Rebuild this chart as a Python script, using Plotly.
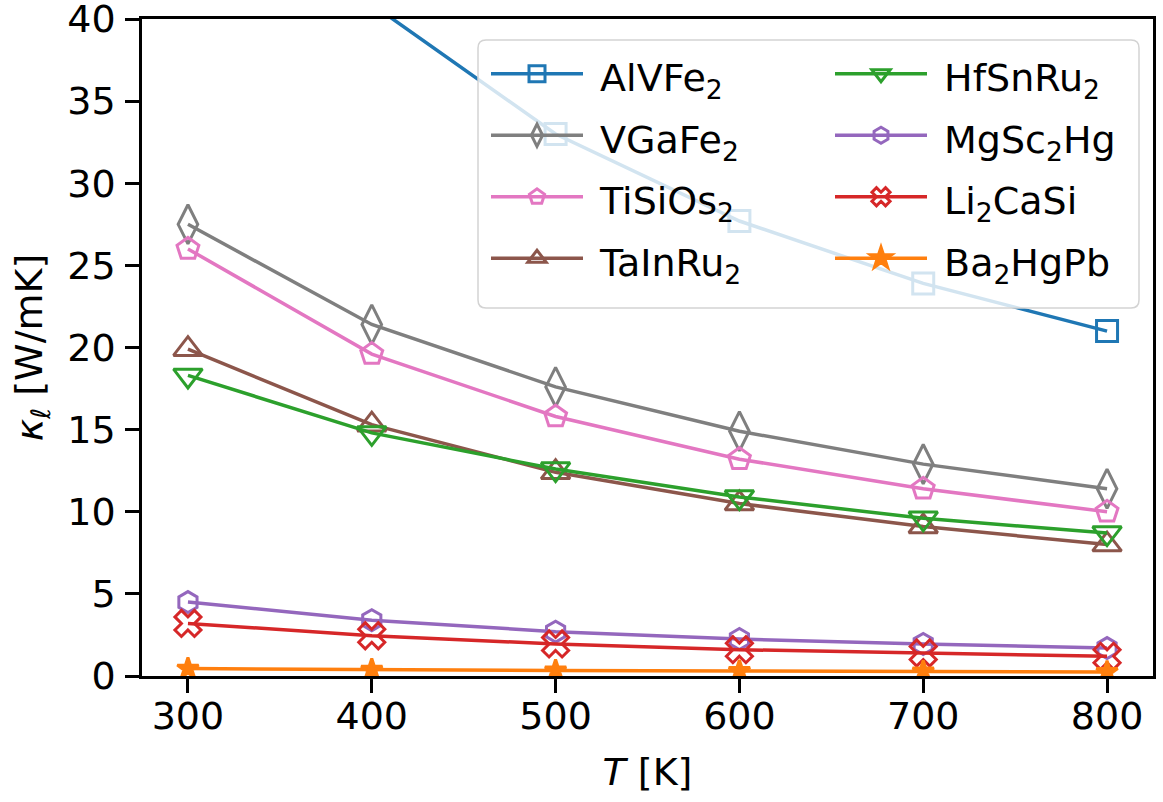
import plotly.graph_objects as go

T = [300, 400, 500, 600, 700, 800]

names = ["AlVFe<sub>2</sub>", "VGaFe<sub>2</sub>", "TiSiOs<sub>2</sub>", "TaInRu<sub>2</sub>",
         "HfSnRu<sub>2</sub>", "MgSc<sub>2</sub>Hg", "Li<sub>2</sub>CaSi", "Ba<sub>2</sub>HgPb"]

AlVFe2 = [52.0, 40.9, 33.0, 27.7, 23.9, 21.0]
VGaFe2 = [27.5, 21.4, 17.6, 14.9, 12.9, 11.4]
TiSiOs2 = [26.0, 19.6, 15.8, 13.2, 11.4, 10.0]
TaInRu2 = [19.9, 15.3, 12.4, 10.5, 9.1, 8.0]
HfSnRu2 = [18.3, 14.8, 12.6, 10.9, 9.6, 8.7]
MgSc2Hg = [4.5, 3.4, 2.7, 2.25, 1.95, 1.7]
Li2CaSi = [3.2, 2.45, 1.95, 1.6, 1.4, 1.2]
Ba2HgPb = [0.45, 0.38, 0.33, 0.3, 0.27, 0.25]

yticks = [0, 5, 10, 15, 20, 25, 30, 35, 40]

series = [AlVFe2, VGaFe2, TiSiOs2, TaInRu2, HfSnRu2, MgSc2Hg, Li2CaSi, Ba2HgPb]
colors = ["#1f77b4", "#7f7f7f", "#e377c2", "#8c564b", "#2ca02c", "#9467bd", "#d62728", "#ff7f0e"]
symbols = ["square-open", "diamond-tall-open", "pentagon-open", "triangle-up-open",
           "triangle-down-open", "hexagon-open", "x-open", "star"]
sizes = [21, 28, 23, 25, 25, 21, 23, 16]
legend_ids = ["legend"] * 4 + ["legend2"] * 4

FS = 38
LEG_FS = 45

fig = go.Figure()
for name, ys, c, s, sz, lg in zip(names, series, colors, symbols, sizes, legend_ids):
    fig.add_trace(go.Scatter(
        x=T, y=ys, mode="lines+markers",
        name='<span style="font-size:%dpx">&nbsp;%s</span>' % (FS, name),
        line=dict(color=c, width=3.5),
        marker=dict(symbol=s, size=sz, color=c, line=dict(color=c, width=3)),
        legend=lg, cliponaxis=True,
    ))

axis_common = dict(
    showline=True, linecolor="black", linewidth=2.5, mirror=True,
    ticks="outside", ticklen=14, tickwidth=2.5, tickcolor="black",
    showgrid=False, zeroline=False, automargin=False,
    ticklabeloverflow="allow",
    tickfont=dict(family="DejaVu Sans", size=FS, color="black"),
)

# plot area in pixels: x 142..1153, y 19..676
PL, PR, PT, PB = 142, 1153, 19, 676
def px_x(p):
    return (p - PL) / (PR - PL)
def px_y(p):
    return (PB - p) / (PB - PT)

# legend frame (rounded rectangle, semi-transparent white)
bx0, bx1, by0, by1, rad = 478, 1139, 40, 308, 8
rx, ry = rad / (PR - PL), rad / (PB - PT)
X0, X1, Y0, Y1 = px_x(bx0), px_x(bx1), px_y(by1), px_y(by0)
frame_path = (
    f"M{X0 + rx},{Y1} L{X1 - rx},{Y1} Q{X1},{Y1} {X1},{Y1 - ry} "
    f"L{X1},{Y0 + ry} Q{X1},{Y0} {X1 - rx},{Y0} "
    f"L{X0 + rx},{Y0} Q{X0},{Y0} {X0},{Y0 + ry} "
    f"L{X0},{Y1 - ry} Q{X0},{Y1} {X0 + rx},{Y1} Z"
)

leg_common = dict(
    orientation="v", xanchor="left", yanchor="top",
    bgcolor="rgba(0,0,0,0)", borderwidth=0,
    font=dict(family="DejaVu Sans", size=LEG_FS, color="black"),
    itemwidth=92, tracegroupgap=0,
)

fig.update_layout(
    width=1163, height=802,
    margin=dict(l=PL, r=1163 - PR, t=PT, b=802 - PB, autoexpand=False),
    plot_bgcolor="white", paper_bgcolor="white",
    font=dict(family="DejaVu Sans", size=FS, color="black"),
    xaxis=dict(range=[275, 825], tickvals=T, ticktext=[str(t) for t in T],
               ticklabelstandoff=-9,
               title=dict(text="<i>T</i> [K]", font=dict(size=FS), standoff=22),
               **axis_common),
    yaxis=dict(range=[0, 40], tickvals=yticks, ticktext=[str(v) for v in yticks],
               ticklabelstandoff=2,
               title=dict(text="<i>κ</i><sub><i>ℓ</i></sub> [W/mK]", font=dict(size=FS), standoff=13),
               **axis_common),
    legend=dict(x=px_x(486), y=px_y(38), **leg_common),
    legend2=dict(x=px_x(830), y=px_y(38), **leg_common),
    shapes=[dict(type="path", xref="paper", yref="paper", path=frame_path,
                 fillcolor="rgba(255,255,255,0.8)", line=dict(color="#d3d3d3", width=1.5),
                 layer="above")],
    showlegend=True,
)

fig.write_html("out.html", config={"displayModeBar": False},
               post_script="document.body.style.margin='0px';")
